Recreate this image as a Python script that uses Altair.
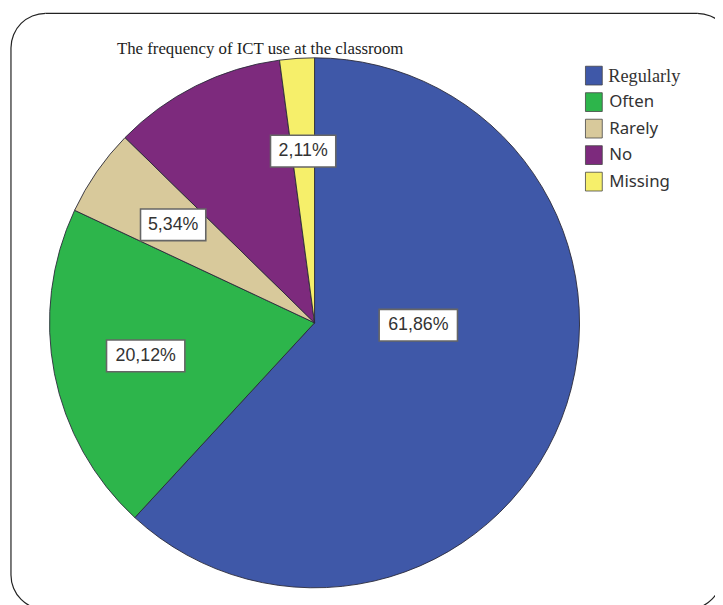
import math
import altair as alt
import pandas as pd

# ---- data ----
title_text = "The frequency of ICT use at the classroom"
categories = ["Regularly", "Often", "Rarely", "No", "Missing"]
values = [61.86, 20.12, 5.34, 10.57, 2.11]
show_label = [True, True, True, False, True]
colors = ["#3F58A8", "#2DB54B", "#D8C99B", "#7D2A7D", "#F6EF6A"]

# ---- layout (not data) ----
W, H = 715, 597
CX, CY, R = 310, 315, 268
label_frac = [0.41, 0.5, 0.5, 0.5, 0.5]
label_r = [105, 174, 174, 174, 174]
LEG_X, LEG_Y0, LEG_DY = 584, 65, 26.8

# decorative rounded frame (only the parts visible in the picture)
FR_L, FR_T, FR_RAD = 3, 2, 35
FR_TR_CX = 697      # centre x of top-right corner
FR_BL_CY = 570      # centre y of bottom corners
FR_BR_CX = 687      # centre x of bottom-right corner
FRAME_COLOR = "#222"

labels = [(f"{v:.2f}%").replace(".", ",") for v in values]

df = pd.DataFrame({
    "category": categories,
    "value": values,
    "order": list(range(len(categories))),
    "label": labels,
    "show": show_label,
    "frac": label_frac,
    "r": label_r,
})

one = pd.DataFrame({"a": [0]})
color_scale = alt.Scale(domain=categories, range=colors)

PI = math.pi


def corner(cx, cy, t1, t2):
    return alt.Chart(one).mark_arc(
        radius=FR_RAD + 0.6, radius2=FR_RAD - 0.6, theta=t1, theta2=t2, color=FRAME_COLOR
    ).encode(x=alt.value(cx), y=alt.value(cy))


top_line = alt.Chart(one).mark_rule(color=FRAME_COLOR, strokeWidth=1.2).encode(
    x=alt.value(FR_L + FR_RAD), x2=alt.value(FR_TR_CX), y=alt.value(FR_T)
)
left_line = alt.Chart(one).mark_rule(color=FRAME_COLOR, strokeWidth=1.2).encode(
    x=alt.value(FR_L), y=alt.value(FR_T + FR_RAD), y2=alt.value(FR_BL_CY)
)
c_tl = corner(FR_L + FR_RAD, FR_T + FR_RAD, 1.5 * PI, 2 * PI)
c_tr = corner(FR_TR_CX, FR_T + FR_RAD, 0, 0.5 * PI)
c_bl = corner(FR_L + FR_RAD, FR_BL_CY, PI, 1.5 * PI)
c_br = corner(FR_BR_CX, FR_BL_CY, 0.5 * PI, PI)

pie = alt.Chart(df).mark_arc(radius=R, stroke="#2a2a3a", strokeWidth=0.9).encode(
    theta=alt.Theta("value:Q", stack=True),
    color=alt.Color("category:N", scale=color_scale, legend=None),
    order=alt.Order("order:Q"),
    x=alt.value(CX),
    y=alt.value(CY),
)

lab_base = (
    alt.Chart(df)
    .transform_window(cum="sum(value)", sort=[alt.SortField("order")], frame=[None, 0])
    .transform_joinaggregate(total="sum(value)")
    .transform_calculate(
        ang="2*PI*(datum.cum - datum.value + datum.frac*datum.value)/datum.total",
    )
    .transform_calculate(
        lx=f"{CX} + datum.r*sin(datum.ang)",
        ly=f"{CY} - datum.r*cos(datum.ang)",
        hw="length(datum.label)*6.6",
    )
    .transform_calculate(
        bx1="datum.lx - datum.hw",
        bx2="datum.lx + datum.hw",
        by1="datum.ly - 16",
        by2="datum.ly + 16",
    )
    .transform_filter("datum.show")
)

boxes = lab_base.mark_rect(fill="white", stroke="#666", strokeWidth=1.6).encode(
    x=alt.X("bx1:Q", scale=None, axis=None),
    x2="bx2:Q",
    y=alt.Y("by1:Q", scale=None, axis=None),
    y2="by2:Q",
)

texts = lab_base.mark_text(
    font="Liberation Sans", fontSize=18, color="#333", baseline="middle", align="center"
).encode(
    x=alt.X("lx:Q", scale=None, axis=None),
    y=alt.Y("ly:Q", scale=None, axis=None),
    text="label:N",
)

title = alt.Chart(pd.DataFrame({"t": [title_text]})).mark_text(
    font="Liberation Serif", fontSize=17, color="#222", align="center", baseline="middle"
).encode(x=alt.value(255), y=alt.value(38), text="t:N")

leg_base = alt.Chart(df).transform_calculate(
    gy=f"{LEG_Y0} + datum.order*{LEG_DY}",
    gy1=f"{LEG_Y0} + datum.order*{LEG_DY} - 9.5",
    gy2=f"{LEG_Y0} + datum.order*{LEG_DY} + 9.5",
)

leg_sq = leg_base.mark_rect(stroke="#444", strokeWidth=0.8).encode(
    x=alt.value(LEG_X),
    x2=alt.value(LEG_X + 17),
    y=alt.Y("gy1:Q", scale=None, axis=None),
    y2="gy2:Q",
    color=alt.Color("category:N", scale=color_scale, legend=None),
)

leg_txt_serif = leg_base.transform_filter("datum.order == 0").mark_text(
    font="Liberation Serif", fontSize=18.5, color="#333", align="left", baseline="middle"
).encode(
    x=alt.value(LEG_X + 23),
    y=alt.Y("gy:Q", scale=None, axis=None),
    text="category:N",
)

leg_txt_sans = leg_base.transform_filter("datum.order > 0").mark_text(
    font="Noto Sans", fontSize=17, color="#333", align="left", baseline="middle"
).encode(
    x=alt.value(LEG_X + 24),
    y=alt.Y("gy:Q", scale=None, axis=None),
    text="category:N",
)

chart = (
    alt.layer(
        top_line, left_line, c_tl, c_tr, c_bl, c_br,
        pie, boxes, texts, title, leg_sq, leg_txt_serif, leg_txt_sans,
    )
    .properties(width=W, height=H, autosize=alt.AutoSizeParams(type="none"), padding=0)
    .configure_view(stroke=None)
)

chart.save("out.html", embed_options={"renderer": "svg", "actions": False})
